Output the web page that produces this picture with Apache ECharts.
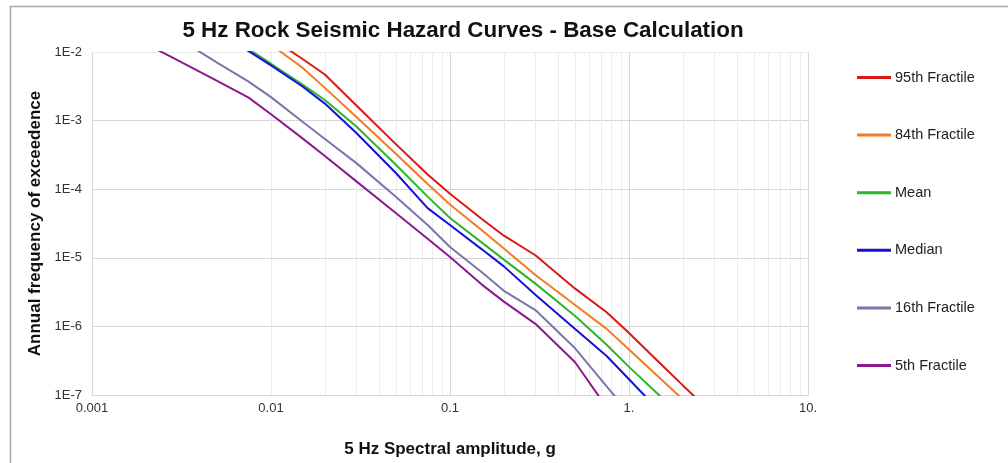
<!DOCTYPE html>
<html>
<head>
<meta charset="utf-8">
<script src="https://cdn.jsdelivr.net/npm/echarts@6/dist/echarts.min.js"></script>
<style>
  html, body { margin: 0; padding: 0; background: #fff; }
  #chart { width: 1008px; height: 463px; }
</style>
</head>
<body>
<div id="chart"></div>
<script>
// spectral amplitudes (g) where the curves were read
const amps = [0.002, 0.003, 0.005, 0.0075, 0.01, 0.015, 0.02, 0.03, 0.05, 0.075,
              0.1, 0.15, 0.2, 0.3, 0.5, 0.75, 1.0, 1.5, 2.0, 3.0]

// annual frequency of exceedance per curve (null = not drawn)
const frac95 = [null, null, 5.6e-2, 2.7e-2, 1.6e-2, 7.9e-3, 4.7e-3, 1.66e-3, 4.5e-4, 1.64e-4,
                8.6e-5, 3.7e-5, 2.1e-5, 1.09e-5, 3.55e-6, 1.61e-6, 8.0e-7, 2.85e-7, 1.38e-7, 5.0e-8]
const frac84 = [null, null, 4.8e-2, 2.2e-2, 1.28e-2, 5.9e-3, 3.0e-3, 1.13e-3, 3.26e-4, 1.19e-4,
                6.0e-5, 2.54e-5, 1.37e-5, 5.6e-6, 2.05e-6, 9.2e-7, 4.6e-7, 1.73e-7, 8.6e-8, 3.2e-8]
const meanVals = [null, 5.2e-2, 2.2e-2, 1.1e-2, 6.75e-3, 3.35e-3, 2.0e-3, 8.2e-4, 2.25e-4, 7.8e-5,
                  3.8e-5, 1.68e-5, 9.4e-6, 4.2e-6, 1.42e-6, 5.4e-7, 2.57e-7, 9.5e-8, 4.7e-8, null]
const medianVals = [null, 4.6e-2, 2.0e-2, 1.03e-2, 6.4e-3, 3.14e-3, 1.77e-3, 6.6e-4, 1.71e-4, 5.3e-5,
                    3.0e-5, 1.34e-5, 7.5e-6, 2.9e-6, 9.2e-7, 3.7e-7, 1.7e-7, 5.6e-8, null, null]
const frac16 = [3.1e-2, 1.61e-2, 7.0e-3, 3.7e-3, 2.2e-3, 9.6e-4, 5.4e-4, 2.4e-4, 7.7e-5, 3.0e-5,
                1.44e-5, 6.2e-6, 3.3e-6, 1.73e-6, 4.8e-7, 1.34e-7, 5.4e-8, null, null, null]
const frac5 = [1.32e-2, 7.6e-3, 3.8e-3, 2.16e-3, 1.24e-3, 5.5e-4, 3.05e-4, 1.3e-4, 4.45e-5, 1.9e-5,
               1.03e-5, 4.1e-6, 2.3e-6, 1.09e-6, 3.0e-7, 6.6e-8, null, null, null, null]

const seriesNames = ["95th Fractile", "84th Fractile", "Mean", "Median", "16th Fractile", "5th Fractile"]
const seriesValues = [frac95, frac84, meanVals, medianVals, frac16, frac5]
const seriesColors = ["#dd1616", "#f57a22", "#2eb52e", "#1212dc", "#7a76a8", "#8a1a8e"]

const xTicks = [0.001, 0.01, 0.1, 1, 10]
const xTickLabels = ["0.001", "0.01", "0.1", "1.", "10."]
const yTicks = [1e-7, 1e-6, 1e-5, 1e-4, 1e-3, 1e-2]
const yTickLabels = ["1E-7", "1E-6", "1E-5", "1E-4", "1E-3", "1E-2"]

const FONT = "Liberation Sans, Arial, sans-serif"

function tickLabel(ticks, labels, v){
    let e = Math.round(Math.log10(v))
    for (let i = 0; i < ticks.length; i++){
        if (Math.round(Math.log10(ticks[i])) === e) return labels[i]
    }
    return ""
}

// minor grid positions 2..9 in each decade
let xMinor = []
for (let d = -3; d < 1; d++){
    for (let k = 2; k <= 9; k++) xMinor.push({ xAxis: k * Math.pow(10, d) })
}
let yMinor = []
for (let d = -7; d < -2; d++){
    for (let k = 2; k <= 9; k++) yMinor.push({ yAxis: k * Math.pow(10, d) })
}

let myChart = echarts.init(document.getElementById("chart"), null, { renderer: "canvas" })

let series = [{
    type: "line",
    data: [],
    silent: true,
    z: 0,
    markLine: {
        z: 0,
        silent: true,
        symbol: "none",
        animation: false,
        label: { show: false },
        emphasis: { disabled: true },
        lineStyle: { color: "#ebebeb", width: 1, type: "solid" },
        data: xMinor.concat(yMinor)
    }
}]

seriesNames.forEach((name, i) => {
    let data = []
    amps.forEach((a, j) => {
        if (seriesValues[i][j] != null) data.push([a, seriesValues[i][j]])
    })
    series.push({
        name: name,
        type: "line",
        data: data,
        symbol: "none",
        clip: true,
        z: 5,
        lineStyle: { color: seriesColors[i], width: 2 },
        itemStyle: { color: seriesColors[i] },
        animation: false
    })
})

let option = {
    backgroundColor: "#ffffff",
    animation: false,
    textStyle: { fontFamily: FONT },
    graphic: [{
        type: "rect",
        shape: { x: 10.5, y: 6.5, width: 1010, height: 470 },
        style: { fill: null, stroke: "#a8a8a8", lineWidth: 1.5 },
        silent: true
    }],
    title: {
        text: "5 Hz Rock Seismic Hazard Curves - Base Calculation",
        left: 458,
        top: 15,
        textAlign: "center",
        textStyle: { fontSize: 22.4, fontWeight: "bold", color: "#111", fontFamily: FONT }
    },
    legend: {
        data: seriesNames,
        orient: "vertical",
        left: 852,
        top: 65,
        icon: "rect",
        itemWidth: 34,
        itemHeight: 3,
        itemGap: 42.6,
        textStyle: { fontSize: 14.5, color: "#222", fontFamily: FONT, padding: [0, 0, 0, -1] }
    },
    grid: { left: 92, right: 200, top: 52, bottom: 68 },
    xAxis: {
        type: "log",
        logBase: 10,
        min: 0.001,
        max: 10,
        name: "5 Hz Spectral amplitude, g",
        nameLocation: "middle",
        nameGap: 46,
        nameTextStyle: { fontSize: 17, fontWeight: "bold", color: "#111" },
        axisLine: { show: true, lineStyle: { color: "#ddd9cc", width: 1 } },
        axisTick: { show: false },
        axisLabel: {
            fontSize: 13, color: "#333", margin: 7,
            formatter: v => tickLabel(xTicks, xTickLabels, v)
        },
        splitLine: { show: true, lineStyle: { color: "#d6d6d6", width: 1 } }
    },
    yAxis: {
        type: "log",
        logBase: 10,
        min: 1e-7,
        max: 1e-2,
        name: "Annual frequency of exceedence",
        nameLocation: "middle",
        nameGap: 48,
        nameTextStyle: { fontSize: 17, fontWeight: "bold", color: "#111" },
        axisLine: { show: false },
        axisTick: { show: false },
        axisLabel: {
            fontSize: 13, color: "#333", margin: 10,
            formatter: v => tickLabel(yTicks, yTickLabels, v)
        },
        splitLine: { show: true, lineStyle: { color: "#d6d6d6", width: 1 } }
    },
    series: series
}

myChart.setOption(option)
</script>
</body>
</html>
